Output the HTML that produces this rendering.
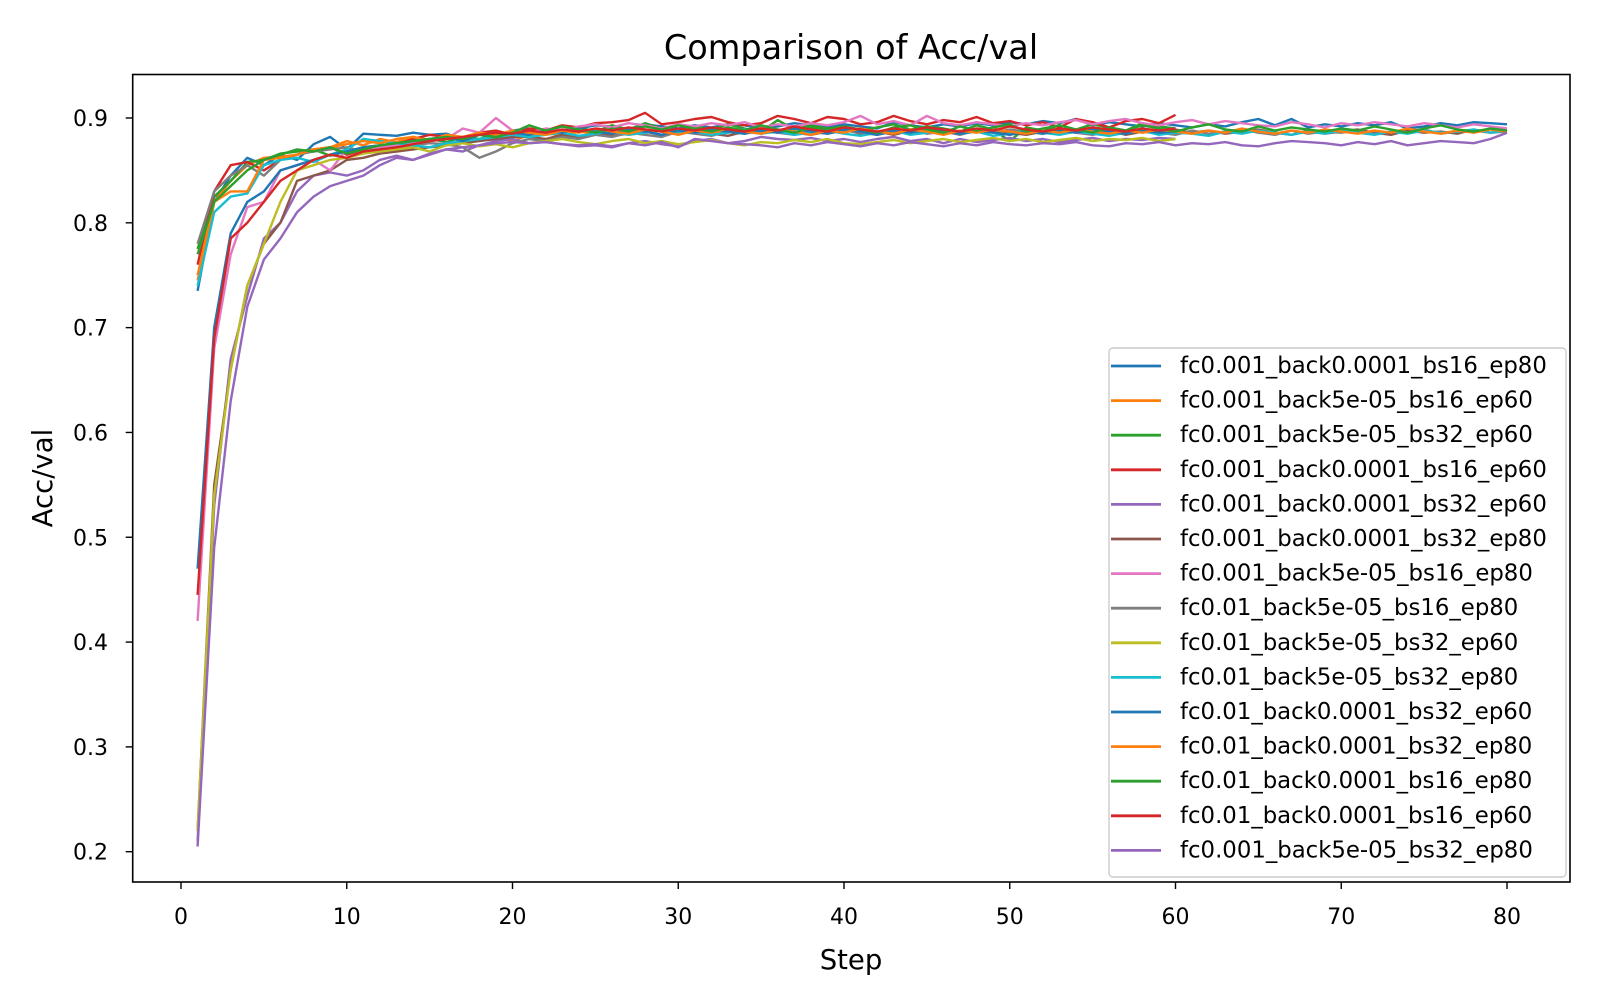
<!DOCTYPE html>
<html><head><meta charset="utf-8">
<style>
html,body{margin:0;padding:0;background:#fff;}
svg{display:block;font-family:"DejaVu Sans","Liberation Sans",sans-serif;}
</style></head>
<body>
<svg id="chart" width="1600" height="1000" xmlns="http://www.w3.org/2000/svg">
<rect width="1600" height="1000" fill="#fff"/>
<text x="851" y="59" font-size="33.5" text-anchor="middle">Comparison of Acc/val</text>
<text x="851" y="969" font-size="27.5" text-anchor="middle">Step</text>
<text x="52" y="478" font-size="27.5" text-anchor="middle" transform="rotate(-90 52 478)">Acc/val</text>
<g id="ticks"></g>
<g id="lines"></g>
<rect x="132.7" y="74.5" width="1437.3" height="807.5" fill="none" stroke="#000" stroke-width="1.6"/>
<g id="legend"></g>
</svg>
<script>
const seriesNames=["fc0.001_back0.0001_bs16_ep80","fc0.001_back5e-05_bs16_ep60","fc0.001_back5e-05_bs32_ep60","fc0.001_back0.0001_bs16_ep60","fc0.001_back0.0001_bs32_ep60","fc0.001_back0.0001_bs32_ep80","fc0.001_back5e-05_bs16_ep80","fc0.01_back5e-05_bs16_ep80","fc0.01_back5e-05_bs32_ep60","fc0.01_back5e-05_bs32_ep80","fc0.01_back0.0001_bs32_ep60","fc0.01_back0.0001_bs32_ep80","fc0.01_back0.0001_bs16_ep80","fc0.01_back0.0001_bs16_ep60","fc0.001_back5e-05_bs32_ep80"];
const xTicks=[0,10,20,30,40,50,60,70,80];
const yTicks=[0.2,0.3,0.4,0.5,0.6,0.7,0.8,0.9];
const s1=[735,820,845,862,855,865,860,875,882,870,885,884,883,886,884,885,880,886,884,888,890,887,892,890,893,892,889,894,892,890,893,891,894,893,890,892,895,893,891,894,892,890,896,893,891,894,892,895,893,896,894,897,895,899,893,896,894,892,895,893,891,894,892,896,899,893,899,891,894,892,895,893,896,890,892,895,893,896,895,894];
const s2=[745,820,840,855,862,863,865,870,872,878,874,880,877,882,879,883,880,885,882,878,884,886,883,887,885,888,884,886,889,885,887,884,888,886,889,887,885,888,886,889,887,885,889,887,886,888,885,889,887,886,888,886,889,887,885,888,886,889,887,888];
const s3=[775,825,840,858,860,866,868,870,864,868,872,874,876,878,880,877,882,880,885,883,890,886,888,891,887,893,889,895,890,887,892,889,894,890,887,898,889,893,890,892,888,891,894,889,892,890,887,893,889,878,891,888,893,889,894,891,888,895,892,890];
const s4=[760,830,855,858,850,860,865,870,872,865,870,872,875,880,884,882,880,886,888,884,890,888,893,891,895,896,898,905,894,896,899,901,896,893,895,902,899,895,901,899,894,896,902,897,894,898,896,901,895,897,893,896,891,899,896,891,897,899,895,903];
const s5=[210,530,670,730,785,800,830,845,848,845,850,860,864,860,866,870,868,874,878,880,876,877,875,873,874,872,876,878,875,873,878,880,876,878,882,880,879,881,878,880,877,880,882,878,880,876,880,877,879,881,878,880,877,879,881,878,880,879,881,880];
const s6=[220,550,660,740,780,800,840,845,850,860,862,866,868,870,872,874,876,878,880,882,882,880,884,882,886,883,885,887,884,886,888,885,883,887,885,888,886,884,887,889,885,887,884,888,886,889,885,887,890,886,884,887,885,889,886,888,884,887,885,889,886,888,885,887,889,886,884,888,885,887,889,886,884,888,886,887,885,889,886,888];
const s7=[420,680,770,815,820,850,855,860,850,870,868,872,874,876,878,880,890,886,900,888,886,890,888,892,894,891,895,893,890,894,892,895,893,896,891,894,892,895,893,896,902,894,897,893,902,895,893,896,894,892,895,893,896,898,894,897,899,895,893,896,898,894,897,895,893,892,896,894,891,895,893,896,894,892,895,893,891,894,892,890];
const s8=[780,830,845,855,845,860,865,868,870,872,868,870,872,874,876,875,872,862,868,876,880,878,882,880,884,882,886,884,882,887,885,883,887,885,888,886,884,887,885,888,886,884,887,889,885,887,884,888,886,889,887,885,888,886,884,887,885,889,886,884,888,885,887,889,886,884,888,885,887,886,888,885,887,886,889,885,887,888,886,887];
const s9=[220,540,660,740,780,820,850,855,860,862,866,868,870,872,868,874,876,873,875,872,876,878,880,877,875,878,880,876,878,875,877,879,876,874,877,876,879,877,880,876,875,877,879,876,878,880,877,879,881,878,880,877,879,881,878,880,879,881,878,880];
const s10=[740,810,825,828,855,860,862,858,865,870,880,878,876,874,872,876,878,880,882,884,882,884,886,883,885,887,884,886,888,885,887,884,886,889,885,887,884,886,888,885,883,886,888,884,886,889,885,887,883,885,888,886,884,887,885,883,886,888,884,886,885,883,887,885,888,886,884,887,885,888,886,884,887,885,888,886,887,889,886,888];
const s11=[470,700,790,820,830,850,855,860,865,868,872,874,876,878,880,882,878,884,882,886,884,888,886,890,887,885,889,887,884,888,886,889,887,885,888,886,890,887,885,889,887,884,888,886,889,887,885,888,886,884,887,885,888,886,889,887,885,888,886,887];
const s12=[750,820,830,830,860,862,865,870,872,875,878,876,880,882,878,884,882,886,884,888,886,884,888,886,890,887,885,889,887,884,888,886,890,887,885,889,887,884,888,886,890,887,885,889,887,884,888,886,889,887,885,888,886,889,887,885,888,886,889,887,885,888,886,890,887,885,888,886,889,887,885,888,886,890,887,885,888,886,889,887];
const s13=[770,820,835,850,860,865,870,868,872,866,870,874,876,878,880,882,880,884,882,886,893,888,892,889,886,890,887,892,889,893,890,887,891,888,893,889,886,891,888,892,889,886,891,893,889,886,892,888,891,894,887,890,893,889,886,891,888,893,890,887,891,894,889,887,892,888,891,889,887,890,888,892,889,886,890,893,889,887,890,888];
const s14=[445,690,785,800,820,840,850,860,865,862,868,870,872,875,878,880,882,884,886,885,888,886,889,887,890,888,891,889,887,890,888,891,889,887,890,888,892,889,887,891,889,887,890,888,891,889,887,890,888,892,889,887,890,888,891,889,887,890,888,890];
const s15=[205,490,630,720,765,785,810,825,835,840,845,855,862,860,865,870,872,874,876,877,876,877,875,874,875,873,876,874,877,872,880,878,876,875,874,872,876,874,877,875,873,876,874,877,875,873,876,874,877,875,874,876,875,877,874,873,876,875,877,874,876,875,877,874,873,876,878,877,876,874,877,875,878,874,876,878,877,876,880,886];
const allSeries=[s1,s2,s3,s4,s5,s6,s7,s8,s9,s10,s11,s12,s13,s14,s15];
const colors=["#1f77b4","#ff7f0e","#2ca02c","#d62728","#9467bd","#8c564b","#e377c2","#7f7f7f","#bcbd22","#17becf","#1f77b4","#ff7f0e","#2ca02c","#d62728","#9467bd"];

const NS="http://www.w3.org/2000/svg";
function xs(v){return 181+(v-0)*(1507-181)/80;}
function ys(v){return 851.7-(v-0.2)*(851.7-118)/0.7;}
function mk(tag,attrs,parent){const e=document.createElementNS(NS,tag);for(const k in attrs)e.setAttribute(k,attrs[k]);parent.appendChild(e);return e;}
const tg=document.getElementById('ticks');
xTicks.forEach(v=>{
  const l=mk('line',{x1:xs(v),x2:xs(v),y1:882,y2:889,stroke:'#000','stroke-width':1.4},tg);
  
  
  const t=mk('text',{x:xs(v),y:924,'font-size':22,'text-anchor':'middle'},tg);
  
  
  t.textContent=String(v);
});
yTicks.forEach(v=>{
  const l=mk('line',{x1:125.7,x2:132.7,y1:ys(v),y2:ys(v),stroke:'#000','stroke-width':1.4},tg);
  
  
  const t=mk('text',{x:108,y:ys(v)+8,'font-size':22,'text-anchor':'end'},tg);
  
  
  t.textContent=v.toFixed(1);
});
const lg=document.getElementById('lines');
allSeries.forEach((s,i)=>{
  const pts=s.map((v,j)=>xs(j+1).toFixed(1)+','+ys(v/1000).toFixed(1)).join(' ');
  const p=mk('polyline',{points:pts,fill:'none',stroke:colors[i],'stroke-width':2.4,'stroke-linejoin':'round'},lg);
  
  
});
const leg=document.getElementById('legend');
const box=mk('rect',{x:1109,y:348,width:457,height:529,rx:4,fill:'#fff','fill-opacity':0.8,stroke:'#ccc','stroke-width':1.4},leg);


seriesNames.forEach((n,i)=>{
  const cy=366+i*34.6;
  const g=mk('g',{},leg);
  
  
  mk('line',{x1:1111,x2:1161,y1:cy,y2:cy,stroke:colors[i],'stroke-width':2.8},g);
  const t=mk('text',{x:1180,y:cy+7,'font-size':22.8},g);
  t.textContent=n;
});
</script>
</body></html>
